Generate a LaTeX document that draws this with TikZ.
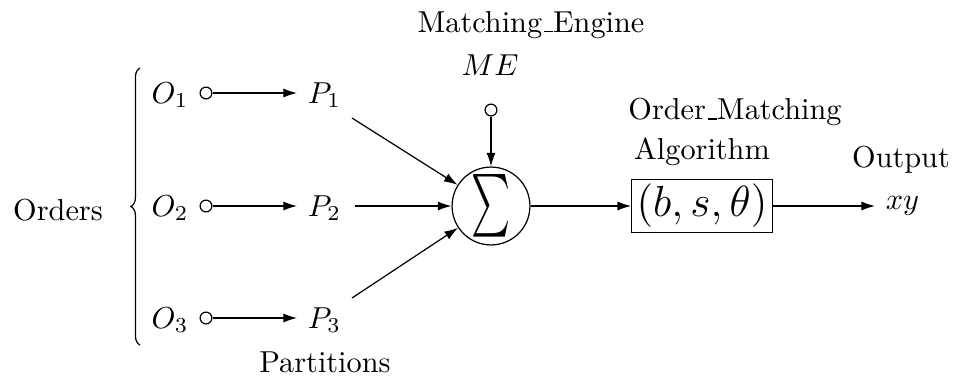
\documentclass[tikz,border=0pt]{standalone}
\usetikzlibrary{arrows.meta,decorations.pathreplacing}
\newcommand\usc{\leavevmode\kern.06em\vbox{\hrule width.3em}}
\begin{document}
\begin{tikzpicture}[x=0.33pt,y=-0.33pt,
  conn/.style={-{Latex[length=4.5pt,width=3pt]}},
  dot/.style={circle,draw,inner sep=0pt,minimum size=3.9pt},
  lbl/.style={inner sep=0pt},
  plbl/.style={inner sep=3.4pt,anchor=west}]
\useasboundingbox (0,0) rectangle (955,383);
% labels
\node[lbl] (orders) at (58,210) {Orders};
\node[lbl] (o1) at (170,95) {$O_1$};
\node[lbl] (o2) at (170,208) {$O_2$};
\node[lbl] (o3) at (170,320) {$O_3$};
\node[dot] (d1) at (206,93) {};
\node[dot] (d2) at (206,206) {};
\node[dot] (d3) at (206,318) {};
\node[plbl] (p1) at (297,95) {$P_1$};
\node[plbl] (p2) at (297,208) {$P_2$};
\node[plbl] (p3) at (297,320) {$P_3$};
\node[lbl] (part) at (325,362) {Partitions};
\node[circle,draw,inner sep=0pt,minimum size=25.7pt] (sum) at (491,206) {\resizebox{12.9pt}{15.5pt}{$\sum$}};
\node[dot] (me) at (491,110) {};
\node[lbl] (metxt) at (490,65) {$ME$};
\node[lbl] (engine) at (531,25) {Matching\usc Engine};
\node[draw,inner sep=1.6pt] (alg) at (702,206) {\Large$(b,s,\theta)$};
\node[lbl] (omtxt) at (735,112) {Order\usc Matching};
\node[lbl] (algtxt) at (702,152) {Algorithm};
\node[lbl] (outtxt) at (901,160) {Output};
\node[plbl] (xy) at (875,206) {$xy$};
\coordinate (bt) at (140,68);
\coordinate (bb) at (140,345);
\draw[decorate,decoration={brace,amplitude=3pt}] (bb) -- (bt);
% connectors
\draw[conn] (d1) -- (d1 -| p1.west);
\draw[conn] (d2) -- (d2 -| p2.west);
\draw[conn] (d3) -- (d3 -| p3.west);
\draw[conn] (352,118) -- (sum);
\draw[conn] (355,206) -- (sum);
\draw[conn] (352,298) -- (sum);
\draw[conn] (me) -- (sum);
\draw[conn] (sum) -- (alg);
\draw[conn] (alg) -- (xy.west |- alg);
\end{tikzpicture}
\end{document}
